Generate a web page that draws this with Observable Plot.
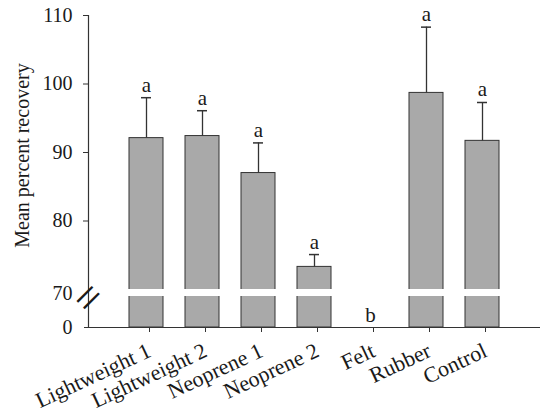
<!DOCTYPE html>
<html>
<head>
<meta charset="utf-8">
<script src="https://cdn.jsdelivr.net/npm/d3@7"></script>
<script src="https://cdn.jsdelivr.net/npm/@observablehq/plot@0.6"></script>
<style>
  html, body { margin: 0; padding: 0; background: #fff; }
  #chart svg { display: block; }
</style>
</head>
<body>
<div id="chart"></div>
<script>
const categories = ["Lightweight 1", "Lightweight 2", "Neoprene 1", "Neoprene 2", "Felt", "Rubber", "Control"];
const means      = [92.1, 92.4, 87.0, 73.3, 0, 98.7, 91.7];
const upperErr   = [98.0, 96.1, 91.4, 75.1, 0, 108.3, 97.3];
const letters    = ["a", "a", "a", "a", "b", "a", "a"];
const yTicksUpper = [80, 90, 100, 110];
const yTickZero = [0];
const yTickBreak = [70];
const yTitle = "Mean percent recovery";

const data = categories.map((c, i) => ({cat: c, mean: means[i], err: upperErr[i], letter: letters[i]}));
const barsData = data.filter(d => d.mean > 0);
const brokenBars = data.filter(d => d.mean > 70);

const font = "'Liberation Serif', 'Times New Roman', serif";

const chart = Plot.plot({
  width: 540,
  height: 411,
  marginLeft: 88,
  marginRight: 0,
  marginTop: 15,
  marginBottom: 84,
  style: {fontFamily: font, fontSize: "20px", color: "#1a1a1a", background: "#fff"},
  x: {domain: categories, paddingInner: 0.39, paddingOuter: 0.73, label: null},
  y: {type: "linear", domain: [0, 69, 70, 110], range: [327, 296, 289, 15], label: null},
  marks: [
    Plot.barY(barsData, {x: "cat", y: "mean", fill: "#a9a9a9", stroke: "#333", strokeWidth: 1}),
    Plot.ruleX(barsData, {x: "cat", y1: "mean", y2: "err", stroke: "#333", strokeWidth: 1.3}),
    Plot.tickY(barsData, {x: "cat", y: "err", stroke: "#333", strokeWidth: 1.5, insetLeft: 12, insetRight: 12}),
    Plot.barY(brokenBars, {x: "cat", y1: 69, y2: 70, fill: "#fff", insetLeft: -2, insetRight: -2}),
    Plot.text(data, {x: "cat", y: "err", text: "letter", dy: -6, lineAnchor: "bottom", fontSize: 21, fill: "#1a1a1a"}),
    Plot.ruleY([0], {stroke: "#333", strokeWidth: 1.2, insetLeft: -4}),
    Plot.frame({anchor: "left", stroke: "#333", strokeWidth: 1.2}),
    Plot.axisY(yTicksUpper, {tickSize: 5, tickPadding: 11, fontSize: 20, label: null, stroke: "#333"}),
    Plot.axisY(yTickZero, {tickSize: 0, tickPadding: 16, fontSize: 20, label: null}),
    Plot.axisY(yTickBreak, {tickSize: 0, tickPadding: 16, fontSize: 20, label: null, dy: 4}),
    Plot.text(["="], {frameAnchor: "left", textAnchor: "middle", y: [69.5], dy: 5, rotate: -45, fontSize: 46, fill: "#1a1a1a"}),
    Plot.text([yTitle], {frameAnchor: "left", textAnchor: "middle", dx: -66, dy: -16, rotate: -90, fontSize: 20, fill: "#1a1a1a"}),
    Plot.axisX({tickSize: 5, tickPadding: 17, tickRotate: -25, fontSize: 22, label: null, stroke: "#333", dx: 3})
  ]
});
document.getElementById("chart").appendChild(chart);
</script>
</body>
</html>
